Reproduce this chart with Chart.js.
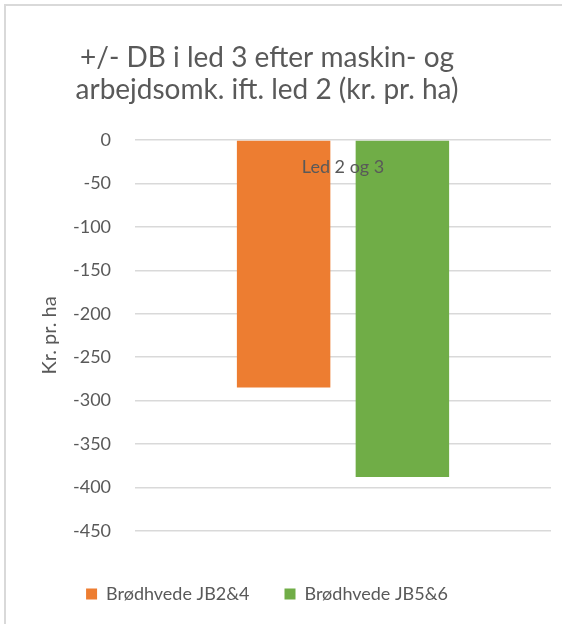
<!DOCTYPE html>
<html>
<head>
<meta charset="utf-8">
<script src="https://cdn.jsdelivr.net/npm/chart.js@4"></script>
<style>
  html, body { margin: 0; padding: 0; background: #fff; }
  #wrap { position: relative; width: 562px; height: 624px; overflow: hidden; background: #fff; }
  #frame { position: absolute; left: 4px; top: 4px; width: 700px; height: 800px; border: 2px solid #d9d9d9; box-sizing: border-box; }
  #c { position: absolute; left: 0; top: 0; }
</style>
</head>
<body>
<div id="wrap">
  <div id="frame"></div>
  <canvas id="c" width="562" height="624"></canvas>
</div>
<script>
const categories = ['Led 2 og 3'];
const seriesNames = ['Brødhvede JB2&4', 'Brødhvede JB5&6'];
const valuesJB24 = [-285];
const valuesJB56 = [-388];
const titleLines = ['+/- DB i led 3 efter maskin- og', 'arbejdsomk. ift. led 2 (kr. pr. ha)'];
const yAxisTitle = 'Kr. pr. ha';
const yMin = -450, yMax = 0, yStep = 50;

const FONT = 'Lato, "Open Sans", sans-serif';
const TXT = '#595959';

// shifts the legend and title blocks slightly left, as in the original layout
const blockShift = {
  id: 'blockShift',
  afterLayout(chart) {
    const l = chart.legend;
    if (l) { l.left -= 10; l.right -= 10; }
    const t = chart.titleBlock;
    if (t) { t.left -= 10; t.right -= 10; }
  }
};

new Chart(document.getElementById('c'), {
  type: 'bar',
  data: {
    labels: categories,
    datasets: [
      { label: seriesNames[0], data: valuesJB24, backgroundColor: '#ED7D31', borderWidth: 0 },
      { label: seriesNames[1], data: valuesJB56, backgroundColor: '#70AD47', borderWidth: 0 }
    ]
  },
  plugins: [blockShift],
  options: {
    responsive: false,
    animation: false,
    devicePixelRatio: 1,
    categoryPercentage: 0.571,
    barPercentage: 0.787,
    layout: { padding: { left: 3, right: 11, top: 0, bottom: 11 } },
    scales: {
      x: {
        position: { y: 0 },
        grid: { display: false, drawTicks: false },
        border: { display: false },
        ticks: { z: 1, color: TXT, font: { family: FONT, size: 18 }, padding: 16 }
      },
      y: {
        min: yMin, max: yMax,
        grid: { color: '#d9d9d9', lineWidth: 1.5, drawTicks: true, tickLength: 24, tickColor: 'rgba(0,0,0,0)' },
        border: { display: false },
        ticks: { stepSize: yStep, color: TXT, font: { family: FONT, size: 18 }, padding: 0 },
        title: { display: true, text: yAxisTitle, color: TXT, font: { family: FONT, size: 20 }, padding: { top: 35, bottom: 11 } }
      }
    },
    plugins: {
      title: {
        display: true,
        text: titleLines,
        color: TXT,
        font: { family: FONT, size: 28, weight: 'normal', lineHeight: 1.143 },
        padding: { top: 42, bottom: 34 }
      },
      legend: {
        position: 'bottom',
        title: { display: true, text: '', font: { size: 1 }, padding: { top: 9, bottom: 9 } },
        labels: {
          color: TXT,
          font: { family: FONT, size: 18 },
          boxWidth: 11, boxHeight: 11,
          padding: 35
        }
      },
      tooltip: { enabled: false }
    }
  }
});
</script>
</body>
</html>
